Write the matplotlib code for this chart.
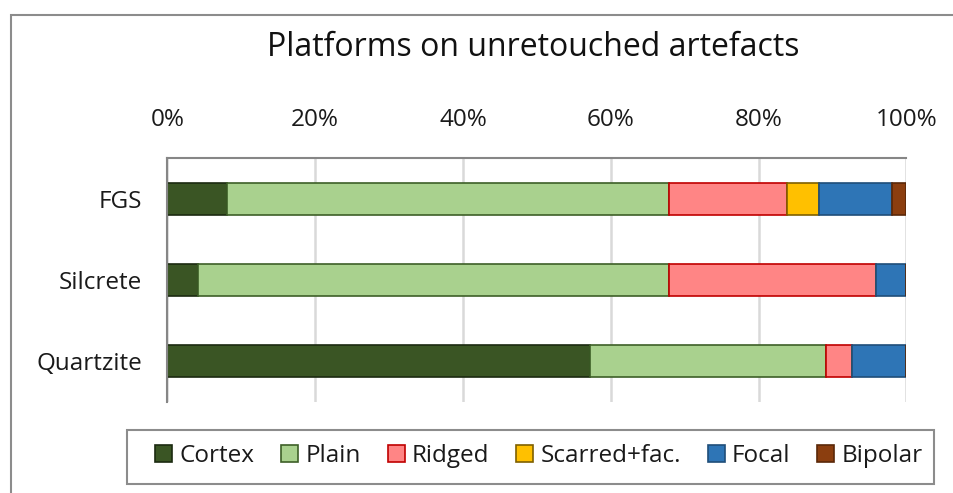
import matplotlib
matplotlib.use("Agg")
import matplotlib.pyplot as plt
from matplotlib.patches import Rectangle, Patch
import numpy as np

plt.rcParams['font.family'] = ['Open Sans', 'DejaVu Sans']

categories = ["FGS", "Silcrete", "Quartzite"]
series_names = ["Cortex", "Plain", "Ridged", "Scarred+fac.", "Focal", "Bipolar"]
cortex = [8.1, 4.1, 57.2]
plain = [59.8, 63.8, 31.9]
ridged = [15.9, 28.0, 3.5]
scarred = [4.3, 0.0, 0.0]
focal = [9.9, 4.1, 7.4]
bipolar = [2.0, 0.0, 0.0]
tick_labels = ["0%", "20%", "40%", "60%", "80%", "100%"]
title = "Platforms on unretouched artefacts"

series = [cortex, plain, ridged, scarred, focal, bipolar]
fills = ["#3A5524", "#A9D18E", "#FF8585", "#FFC000", "#2E75B6", "#8B3E0F"]
edges = ["#1B2A10", "#3D5F27", "#C00000", "#7F6000", "#1F4E79", "#5A2808"]

fig = plt.figure(figsize=(9.54, 4.93), dpi=100)
W, H = 954, 493
ax = fig.add_axes([167.3 / W, 1 - 401.7 / H, (906.5 - 167.3) / W, (401.7 - 158.3) / H])

y = np.arange(len(categories))
left = np.zeros(len(categories))
for vals, fc, ec, name in zip(series, fills, edges, series_names):
    v = np.array(vals, dtype=float)
    ax.barh(y, v, left=left, height=0.4, color=fc, edgecolor=ec, linewidth=1.2, label=name, zorder=3)
    left += v

ax.set_xlim(0, 100)
ax.set_ylim(2.5, -0.5)
ax.set_yticks(y)
ax.set_yticklabels(categories, fontsize=17.5, color="#1a1a1a")
ax.set_xticks([0, 20, 40, 60, 80, 100])
ax.set_xticklabels(tick_labels, fontsize=17.5, color="#1a1a1a")
ax.xaxis.tick_top()
ax.tick_params(axis='x', length=0, pad=19)
ax.tick_params(axis='y', length=0, pad=18)
ax.grid(axis='x', color="#D9D9D9", linewidth=1.8, zorder=0)
for s in ["right", "bottom"]:
    ax.spines[s].set_visible(False)
for s in ["left", "top"]:
    ax.spines[s].set_color("#868686")
    ax.spines[s].set_linewidth(1.5)
    ax.spines[s].set_zorder(4)

fig.text(533 / W, 1 - 47 / H, title, fontsize=23, ha="center", va="center", color="#111111")

# chart frame
frame = Rectangle((10.7 / W, -0.1), 1.2, (1 - 15 / H) + 0.1, transform=fig.transFigure,
                  fill=False, edgecolor="#8C8C8C", linewidth=1.5, clip_on=False)
fig.patches.append(frame)

# legend frame
legframe = Rectangle((127.3 / W, 1 - 484 / H), (934 - 127.3) / W, (484 - 430) / H,
                     transform=fig.transFigure, fill=False, edgecolor="#8C8C8C", linewidth=1.5)
fig.patches.append(legframe)

handles = [Patch(facecolor=fc, edgecolor=ec, linewidth=1.2) for fc, ec in zip(fills, edges)]
leg = fig.legend(handles, series_names, loc="center", bbox_to_anchor=(539 / W, 1 - 456 / H),
                 ncol=6, fontsize=17.5, frameon=False,
                 handlelength=0.7, handleheight=0.7, handletextpad=0.3, columnspacing=1.1,
                 borderpad=0.3, labelcolor="#1a1a1a")

fig.savefig("out.png", dpi=100, facecolor="white")
